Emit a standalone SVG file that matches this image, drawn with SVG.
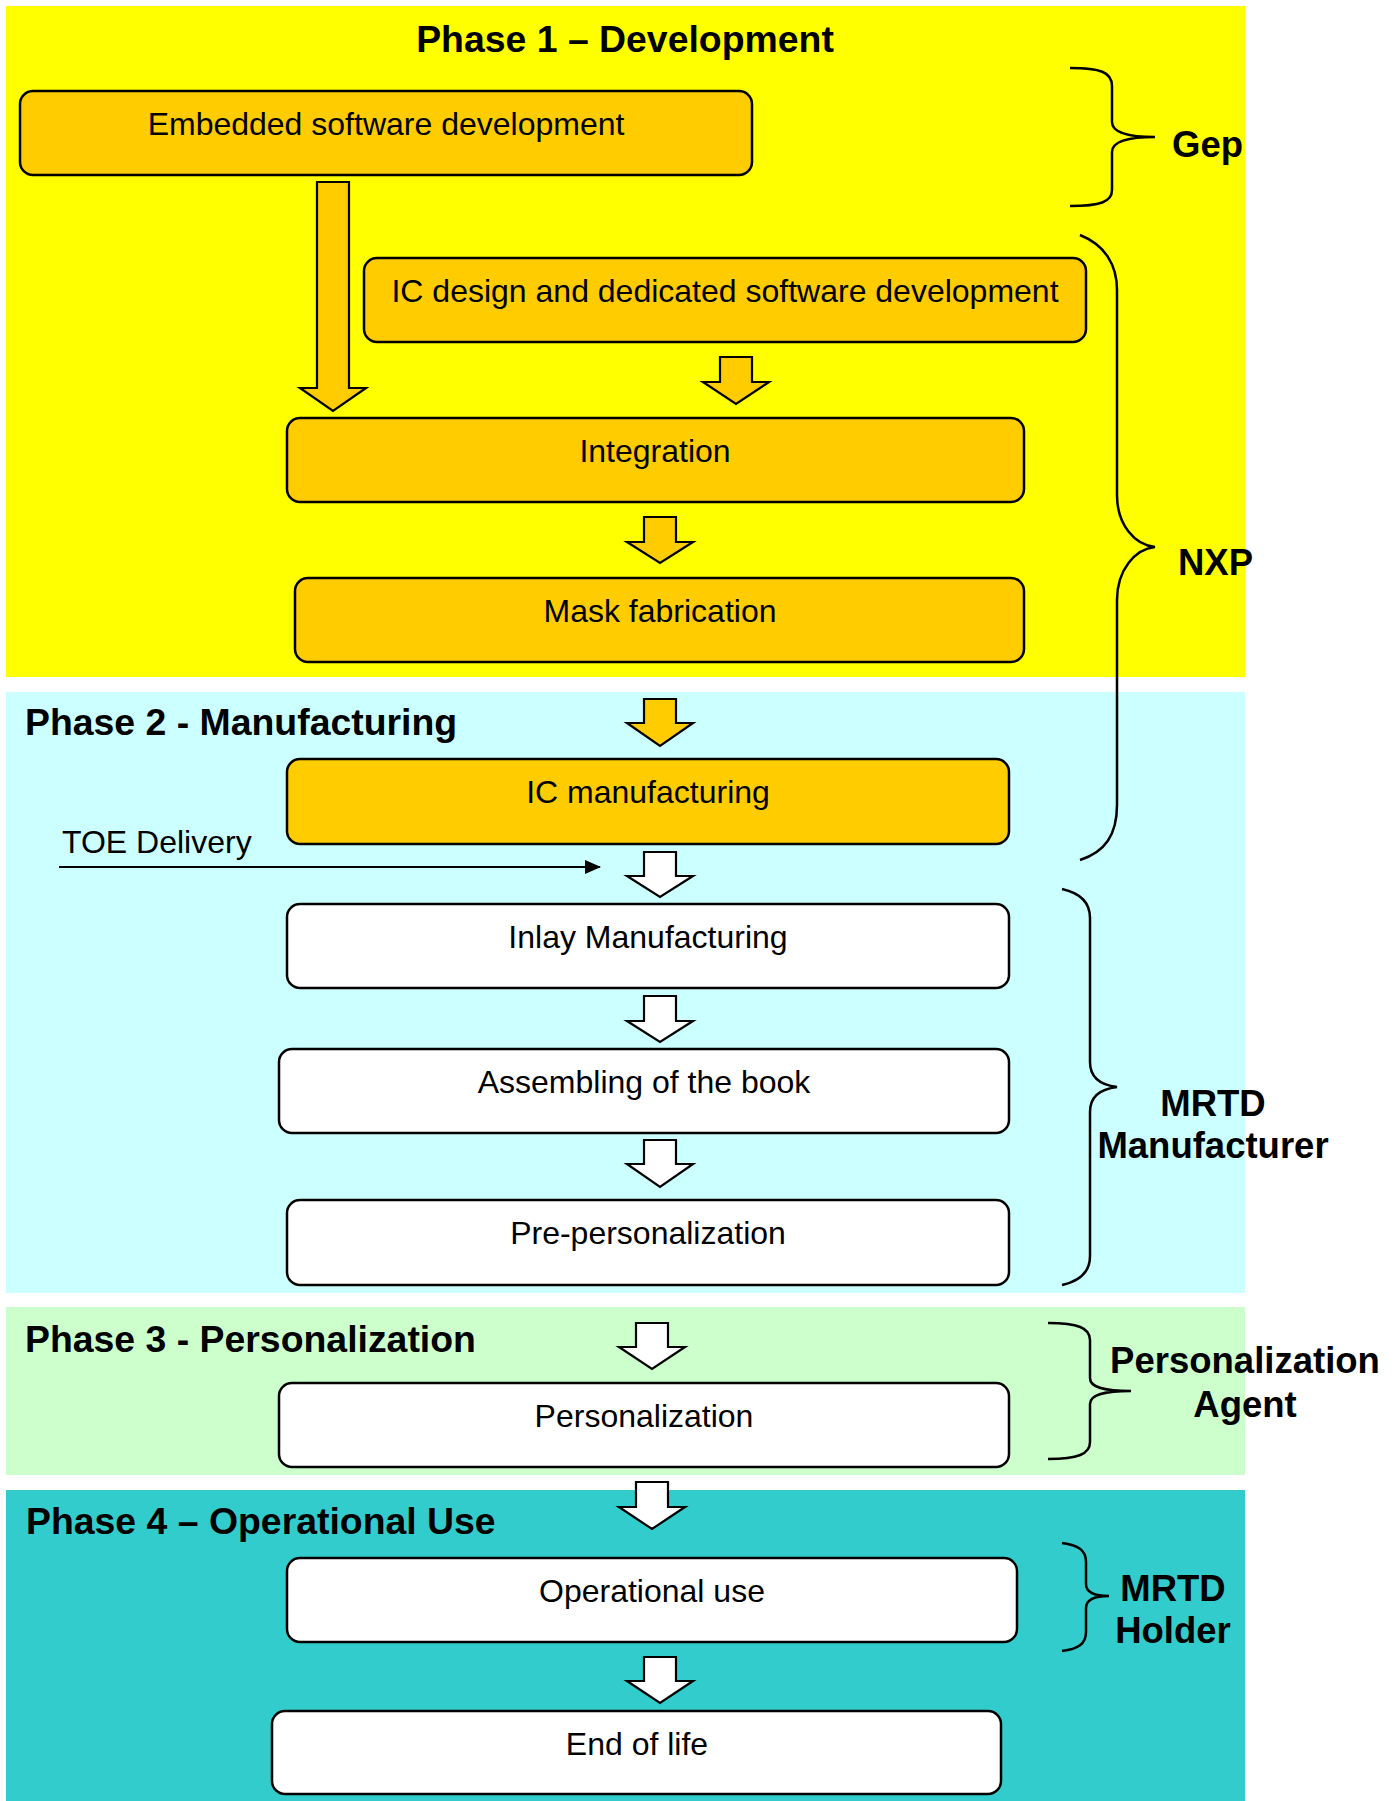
<svg xmlns="http://www.w3.org/2000/svg" width="1399" height="1801" viewBox="0 0 1399 1801">
<defs>
<style>
.box{stroke:#000;stroke-width:2.5}
.orange{fill:#FFCC00}
.white{fill:#FFFFFF}
.t{font-family:"Liberation Sans",Arial,sans-serif;font-size:32px;fill:#000;text-anchor:middle}
.b{font-family:"Liberation Sans",Arial,sans-serif;font-size:36.5px;font-weight:bold;fill:#000}
.ph{font-size:37.4px}
.bm{text-anchor:middle}
.arr{stroke:#000;stroke-width:2.2;stroke-linejoin:miter}
.brace{fill:none;stroke:#000;stroke-width:2.5}
</style>
<marker id="tip" markerWidth="16" markerHeight="14" refX="15" refY="7" orient="auto" markerUnits="userSpaceOnUse">
<path d="M0,0 L16,7 L0,14 Z" fill="#000"/>
</marker>
</defs>

<g id="phases">
<rect id="phase1-bg" x="6" y="6" width="1239" height="671" fill="#FFFF00"/>
<rect id="phase2-bg" x="6" y="692" width="1239" height="601" fill="#CCFFFF"/>
<rect id="phase3-bg" x="6" y="1307" width="1239" height="168" fill="#CCFFCC"/>
<rect id="phase4-bg" x="6" y="1490" width="1239" height="311" fill="#33CCCC"/>
<text class="b ph bm" x="625" y="52">Phase 1 – Development</text>
<text class="b ph" x="25" y="735">Phase 2 - Manufacturing</text>
<text class="b ph" x="25" y="1352">Phase 3 - Personalization</text>
<text class="b ph" x="26" y="1534">Phase 4 – Operational Use</text>
</g>

<g id="connectors">
<path class="arr orange" d="M317,182 H349 V388 H366 L333,411 L300,388 H317 Z"/>
<path class="arr orange" d="M720,357 H752 V382 H769 L736,404 L703,382 H720 Z"/>
<path class="arr orange" d="M644,517 H676 V542 H693 L660,563 L627,542 H644 Z"/>
<path class="arr orange" d="M644,699 H676 V723 H693 L660,746 L627,723 H644 Z"/>
<path class="arr white" d="M644,852 H676 V876 H693 L660,897 L627,876 H644 Z"/>
<path class="arr white" d="M644,996 H676 V1021 H693 L660,1042 L627,1021 H644 Z"/>
<path class="arr white" d="M644,1140 H676 V1164 H693 L660,1187 L627,1164 H644 Z"/>
<path class="arr white" d="M636,1323 H668 V1347 H685 L652,1369 L619,1347 H636 Z"/>
<path class="arr white" d="M636,1482 H668 V1507 H685 L652,1529 L619,1507 H636 Z"/>
<path class="arr white" d="M644,1657 H676 V1681 H693 L660,1703 L627,1681 H644 Z"/>
<line x1="59" y1="867" x2="600" y2="867" stroke="#000" stroke-width="2" marker-end="url(#tip)"/>
<text class="t" x="62" y="853" style="text-anchor:start">TOE Delivery</text>
</g>

<g id="node-embedded">
<rect class="box orange" x="20" y="91" width="732" height="84" rx="13"/>
<text class="t" x="386" y="135">Embedded software development</text>
</g>
<g id="node-icdesign">
<rect class="box orange" x="364" y="258" width="722" height="84" rx="13"/>
<text class="t" x="725" y="302">IC design and dedicated software development</text>
</g>
<g id="node-integration">
<rect class="box orange" x="287" y="418" width="737" height="84" rx="13"/>
<text class="t" x="655" y="462">Integration</text>
</g>
<g id="node-mask">
<rect class="box orange" x="295" y="578" width="729" height="84" rx="13"/>
<text class="t" x="660" y="622">Mask fabrication</text>
</g>
<g id="node-icmanufacturing">
<rect class="box orange" x="287" y="759" width="722" height="85" rx="13"/>
<text class="t" x="648" y="803">IC manufacturing</text>
</g>
<g id="node-inlay">
<rect class="box white" x="287" y="904" width="722" height="84" rx="13"/>
<text class="t" x="648" y="948">Inlay Manufacturing</text>
</g>
<g id="node-assembling">
<rect class="box white" x="279" y="1049" width="730" height="84" rx="13"/>
<text class="t" x="644" y="1093">Assembling of the book</text>
</g>
<g id="node-prepersonalization">
<rect class="box white" x="287" y="1200" width="722" height="85" rx="13"/>
<text class="t" x="648" y="1244">Pre-personalization</text>
</g>
<g id="node-personalization">
<rect class="box white" x="279" y="1383" width="730" height="84" rx="13"/>
<text class="t" x="644" y="1427">Personalization</text>
</g>
<g id="node-operational">
<rect class="box white" x="287" y="1558" width="730" height="84" rx="13"/>
<text class="t" x="652" y="1602">Operational use</text>
</g>
<g id="node-endoflife">
<rect class="box white" x="272" y="1711" width="729" height="83" rx="13"/>
<text class="t" x="637" y="1755">End of life</text>
</g>

<g id="brace-gep">
<path class="brace" d="M1070,68 C1100,68 1112,72 1112,86 L1112,122 C1112,132 1125,137 1155,137 C1125,137 1112,142 1112,152 L1112,190 C1112,202 1100,206 1070,206"/>
<text class="b" x="1172" y="157">Gep</text>
</g>
<g id="brace-nxp">
<path class="brace" d="M1080,235 C1105,245 1117,265 1117,290 L1117,495 C1117,525 1135,545 1155,547 C1135,549 1117,570 1117,600 L1117,805 C1117,835 1105,852 1080,860"/>
<text class="b" x="1178" y="575">NXP</text>
</g>
<g id="brace-mrtd-manufacturer">
<path class="brace" d="M1062,889 C1080,893 1090,902 1090,918 L1090,1062 C1090,1078 1100,1085 1117,1087 C1100,1089 1090,1096 1090,1112 L1090,1256 C1090,1272 1080,1281 1062,1285"/>
<text class="b bm" x="1213" y="1116">MRTD</text>
<text class="b bm" x="1213" y="1158">Manufacturer</text>
</g>
<g id="brace-personalization-agent">
<path class="brace" d="M1048,1323 C1078,1323 1090,1328 1090,1340 L1090,1378 C1090,1387 1102,1391 1131,1391 C1102,1391 1090,1395 1090,1404 L1090,1442 C1090,1454 1078,1459 1048,1459"/>
<text class="b bm" x="1245" y="1373">Personalization</text>
<text class="b bm" x="1245" y="1417">Agent</text>
</g>
<g id="brace-mrtd-holder">
<path class="brace" d="M1062,1543 C1078,1545 1086,1550 1086,1562 L1086,1584 C1086,1592 1094,1596 1109,1596 C1094,1596 1086,1600 1086,1608 L1086,1632 C1086,1644 1078,1649 1062,1651"/>
<text class="b bm" x="1173" y="1601">MRTD</text>
<text class="b bm" x="1173" y="1643">Holder</text>
</g>
</svg>
